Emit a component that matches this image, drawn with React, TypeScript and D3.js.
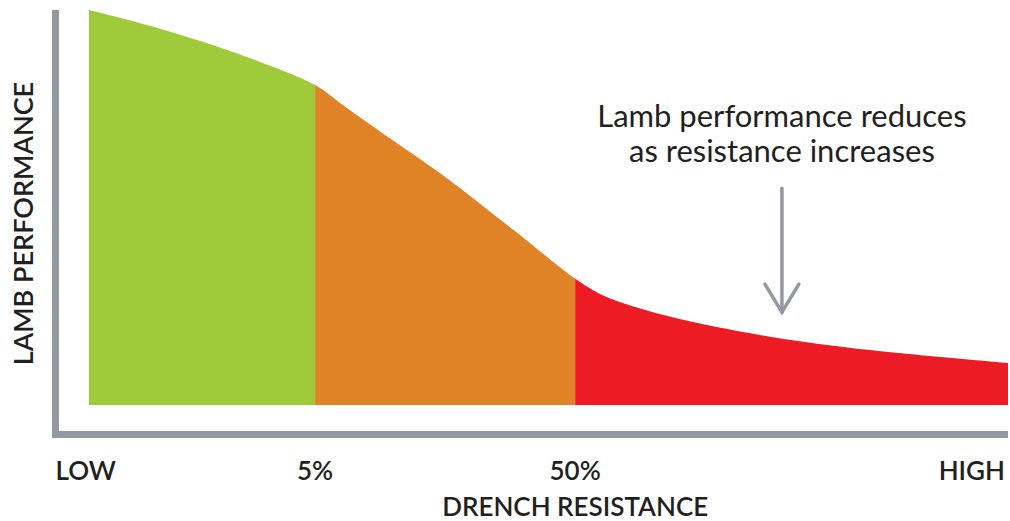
import React from "react";
import * as d3 from "d3";

// resistance position (0 = low, 100 = high) and lamb performance (0-100)
const resistance = [0, 6.3, 13.5, 18.9, 24.6, 28.1, 31.7, 38.9, 46.2, 52.9, 55.9, 63.2, 74.1, 85.0, 100];
const performance = [100, 96.2, 91.1, 86.6, 81.0, 75.1, 69.2, 57.5, 44.3, 32.0, 27.8, 22.4, 17.3, 13.9, 10.6];

// zone boundaries on the resistance axis (5% and 50%)
const zoneStarts = [0, 24.6, 52.9];
const zoneEnds = [24.6, 52.9, 100];
const zoneColors = ["#9fcb3b", "#e08326", "#ed1c24"];

const tickValues = [0, 24.6, 52.9, 100];
const tickLabels = ["LOW", "5%", "50%", "HIGH"];

const noteLines = ["Lamb performance reduces", "as resistance increases"];
const noteX = 75.4;
const arrowFrom = 54.9;
const arrowTo = 23.5;

const width = 1010;
const height = 521;
const axisColor = "#9299a3";
const textColor = "#231f20";
const font = "Lato, 'Open Sans', sans-serif";

export default function App() {
    const x = d3.scaleLinear().domain([0, 100]).range([89, 1008]);
    const y = d3.scaleLinear().domain([0, 100]).range([405, 10]);

    const points = resistance.map((r, i) => [r, performance[i]]);
    const area = d3
        .area<number[]>()
        .x((d) => x(d[0]))
        .y0(y(0))
        .y1((d) => y(d[1]))
        .curve(d3.curveCatmullRom.alpha(0.5));
    const path = area(points) || "";

    const axisX = 55.5;
    const axisY = 434.5;

    return (
        <svg
            width={width}
            height={height}
            viewBox={`0 0 ${width} ${height}`}
            style={{ position: "absolute", left: 0, top: 0, background: "#fff" }}
        >
            <defs>
                {zoneStarts.map((s, i) => (
                    <clipPath id={`zone${i}`} key={i}>
                        <rect x={x(s)} y={0} width={x(zoneEnds[i]) - x(s)} height={y(0)} />
                    </clipPath>
                ))}
            </defs>

            {zoneColors.map((c, i) => (
                <path key={i} d={path} fill={c} clipPath={`url(#zone${i})`} />
            ))}

            {/* L shaped axis */}
            <path
                d={`M${axisX},10V${axisY}H${x(100)}`}
                fill="none"
                stroke={axisColor}
                strokeWidth={7}
                strokeLinejoin="miter"
            />

            {tickValues.map((v, i) => (
                <text
                    key={i}
                    x={i === 0 ? axisX : i === tickValues.length - 1 ? x(v) - 3 : x(v)}
                    y={480}
                    textAnchor={i === 0 ? "start" : i === tickValues.length - 1 ? "end" : "middle"}
                    fontFamily={font}
                    fontWeight={600}
                    fontSize={26}
                    fill={textColor}
                >
                    {tickLabels[i]}
                </text>
            ))}

            <text
                x={x(52.9)}
                y={516}
                textAnchor="middle"
                fontFamily={font}
                fontWeight={600}
                fontSize={26}
                fill={textColor}
            >
                DRENCH RESISTANCE
            </text>

            <text
                transform={`translate(33,${(y(100) + y(0)) / 2 + 16}) rotate(-90)`}
                textAnchor="middle"
                fontFamily={font}
                fontWeight={600}
                fontSize={27}
                fill={textColor}
            >
                LAMB PERFORMANCE
            </text>

            {noteLines.map((t, i) => (
                <text
                    key={i}
                    x={x(noteX)}
                    y={127 + i * 35}
                    textAnchor="middle"
                    fontFamily={font}
                    fontSize={31}
                    fill={textColor}
                >
                    {t}
                </text>
            ))}

            <g stroke={axisColor} strokeWidth={3.5} fill="none" strokeLinecap="round">
                <line x1={x(noteX)} x2={x(noteX)} y1={y(arrowFrom)} y2={y(arrowTo)} />
                <polyline
                    points={`${x(noteX) - 17},${y(arrowTo) - 28} ${x(noteX)},${y(arrowTo)} ${x(noteX) + 17},${y(arrowTo) - 28}`}
                    strokeLinejoin="miter"
                />
            </g>
        </svg>
    );
}
